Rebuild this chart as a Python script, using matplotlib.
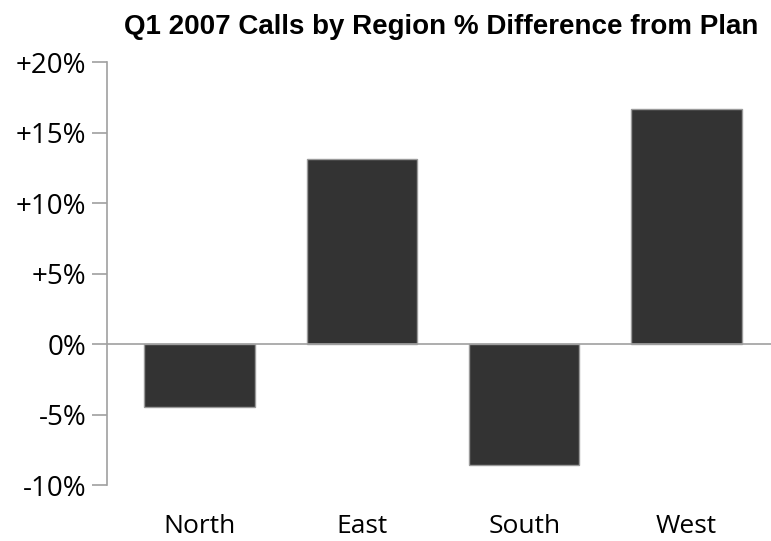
import numpy as np
import matplotlib.pyplot as plt

# dados
regioes = ["North", "East", "South", "West"]
diferenca = [-4.5, 13.1, -8.6, 16.7]   # % em relacao ao plano
ticks_y = [-10, -5, 0, 5, 10, 15, 20]
rotulos_y = ["-10%", "-5%", "0%", "+5%", "+10%", "+15%", "+20%"]

fig = plt.figure(figsize=(7.71, 5.41), dpi=100)
ax = fig.add_axes([0.139, 0.1035, 0.861, 0.7815])

x = np.arange(len(regioes))
ax.bar(x, diferenca, width=0.68, color="#333333", edgecolor="#9a9a9a", linewidth=1, zorder=2)
ax.axhline(0, color="#a0a0a0", linewidth=1.2, zorder=3)

ax.set_xlim(-0.57, 3.52)
ax.set_ylim(-10, 20)

ax.set_yticks(ticks_y)
ax.set_yticklabels(rotulos_y, fontfamily="Open Sans", fontsize=20)
ax.set_xticks(x)
ax.set_xticklabels(regioes, fontfamily="Open Sans", fontsize=19)

ax.tick_params(axis="y", length=11, width=1.2, color="#a0a0a0", pad=4)
ax.tick_params(axis="x", length=0, pad=21)

for lado in ["top", "right", "bottom"]:
    ax.spines[lado].set_visible(False)
ax.spines["left"].set_color("#a0a0a0")
ax.spines["left"].set_linewidth(1.2)

fig.text(0.572, 0.95, "Q1 2007 Calls by Region % Difference from Plan",
         ha="center", va="center", fontfamily="Liberation Sans",
         fontweight="bold", fontsize=20)

fig.savefig("out.png", dpi=100)
